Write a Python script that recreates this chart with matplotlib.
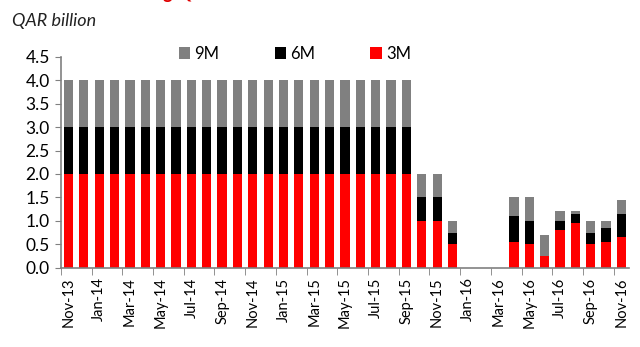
import matplotlib
matplotlib.use("Agg")
import matplotlib.pyplot as plt
import numpy as np

plt.rcParams['font.family'] = ['Lato', 'DejaVu Sans']

# --- data ---
months = ['Nov-13', 'Dec-13', 'Jan-14', 'Feb-14', 'Mar-14', 'Apr-14', 'May-14', 'Jun-14',
          'Jul-14', 'Aug-14', 'Sep-14', 'Oct-14', 'Nov-14', 'Dec-14', 'Jan-15', 'Feb-15',
          'Mar-15', 'Apr-15', 'May-15', 'Jun-15', 'Jul-15', 'Aug-15', 'Sep-15', 'Oct-15',
          'Nov-15', 'Dec-15', 'Jan-16', 'Feb-16', 'Mar-16', 'Apr-16', 'May-16', 'Jun-16',
          'Jul-16', 'Aug-16', 'Sep-16', 'Oct-16', 'Nov-16']
bills_3m = [2.0] * 23 + [1.0, 1.0, 0.5, 0, 0, 0, 0.55, 0.5, 0.25, 0.8, 0.95, 0.5, 0.55, 0.65]
bills_6m = [1.0] * 23 + [0.5, 0.5, 0.25, 0, 0, 0, 0.55, 0.5, 0.0, 0.2, 0.2, 0.25, 0.3, 0.5]
bills_9m = [1.0] * 23 + [0.5, 0.5, 0.25, 0, 0, 0, 0.4, 0.5, 0.45, 0.2, 0.05, 0.25, 0.15, 0.3]

fig = plt.figure(figsize=(6.4, 3.47), dpi=100)
ax = fig.add_axes([0.095, 0.2285, 0.888, 0.608])

x = np.arange(len(months))
b3 = np.array(bills_3m)
b6 = np.array(bills_6m)
b9 = np.array(bills_9m)
w = 0.6
h9 = ax.bar(x, b9, w, bottom=b3 + b6, color='#808080', label='9M')
h6 = ax.bar(x, b6, w, bottom=b3, color='#000000', label='6M')
h3 = ax.bar(x, b3, w, color='#ff0000', label='3M')

ax.set_xlim(-0.5, len(months) - 0.5)
ax.set_ylim(0, 4.5)
ax.set_yticks(np.arange(0, 4.51, 0.5))
ax.set_yticklabels([f"{v:.1f}" for v in np.arange(0, 4.51, 0.5)], fontsize=12.5)

ax.set_xticks(x[::2])
ax.set_xticklabels(months[::2], rotation=90, fontsize=10.5)
ax.set_xticks(np.arange(-0.5, len(months) - 0.5, 2), minor=True)
ax.tick_params(axis='x', which='major', length=0, pad=7)
ax.tick_params(axis='x', which='minor', length=5, color='#808080')
ax.tick_params(axis='y', length=4, color='#808080', pad=4)

for s in ['top', 'right']:
    ax.spines[s].set_visible(False)
for s in ['left', 'bottom']:
    ax.spines[s].set_color('#808080')
    ax.spines[s].set_linewidth(1.2)

fig.text(12 / 640, 1 - 21 / 347, 'QAR billion', fontsize=13, style='italic',
         va='center', ha='left', color='#222222')
# clipped red title at the very top
fig.text(163 / 640, 1 + 1 / 347, 'g Q', fontsize=13, fontweight='bold',
         color='#e00000', va='baseline', ha='left')

fig.legend(handles=[h9, h6, h3], labels=['9M', '6M', '3M'], ncol=3,
           loc='center left', bbox_to_anchor=(172 / 640, 1 - 54 / 347),
           frameon=False, fontsize=12, handlelength=0.7, handleheight=0.7,
           handletextpad=0.25, columnspacing=3.3, borderaxespad=0)

fig.savefig('out.png', dpi=100)
